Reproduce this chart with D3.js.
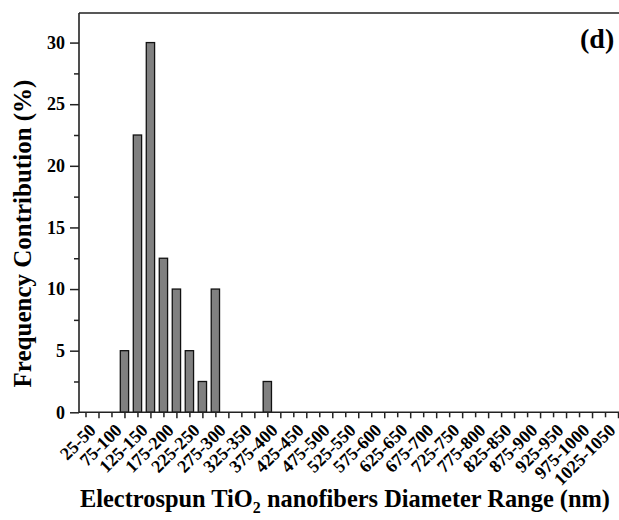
<!DOCTYPE html>
<html>
<head>
<meta charset="utf-8">
<script src="https://cdn.jsdelivr.net/npm/d3@7"></script>
<style>
  html, body { margin: 0; padding: 0; background: #fff; }
  svg { display: block; }
  text { font-family: "Liberation Serif", "Times New Roman", serif; font-weight: bold; fill: #000; }
</style>
</head>
<body>
<svg id="chart" width="619" height="520"></svg>
<script>
// ---- data (25 nm bins, frequency %) ----
const binLabels = ["75-100", "100-125", "125-150", "150-175", "175-200", "200-225", "225-250", "250-275", "350-375"];
const freq = [5, 22.5, 30, 12.5, 10, 5, 2.5, 10, 2.5];
const xTickLabels = ["25-50", "75-100", "125-150", "175-200", "225-250", "275-300", "325-350", "375-400",
  "425-450", "475-500", "525-550", "575-600", "625-650", "675-700", "725-750", "775-800", "825-850",
  "875-900", "925-950", "975-1000", "1025-1050"];
const yTicks = [0, 5, 10, 15, 20, 25, 30];
const yMinorTicks = [2.5, 7.5, 12.5, 17.5, 22.5, 27.5];
const xMinorTickLabels = ["0-25", "50-75", "100-125", "150-175", "200-225", "250-275", "300-325", "350-375",
  "400-425", "450-475", "500-525", "550-575", "600-625", "650-675", "700-725", "750-775", "800-825",
  "850-875", "900-925", "950-975", "1000-1025"];

const mid = s => { const p = s.split("-").map(Number); return (p[0] + p[1]) / 2; };

const svg = d3.select("#chart");
const mLeft = 79, mTop = 13, mBottom = 412.3, mRight = 631;

const x = d3.scaleLinear().domain([0, 1062.5]).range([mLeft, mRight]);
const y = d3.scaleLinear().domain([0, 32.4]).range([mBottom, mTop]);

// frame (top & right)
svg.append("path")
  .attr("d", `M${mLeft},${mTop}H${mRight}V${mBottom}`)
  .attr("fill", "none").attr("stroke", "#222").attr("stroke-width", 1.6);

// bars
const barW = x(16) - x(0);
svg.append("g").selectAll("rect").data(binLabels).join("rect")
  .attr("x", (d) => x(mid(d)) - barW / 2)
  .attr("y", (d, i) => y(freq[i]))
  .attr("width", barW)
  .attr("height", (d, i) => y(0) - y(freq[i]))
  .attr("fill", "#808080")
  .attr("stroke", "#111")
  .attr("stroke-width", 1.3);

// x axis minor
svg.append("g").attr("transform", `translate(0,${mBottom})`)
  .call(d3.axisBottom(x).tickValues(xMinorTickLabels.map(mid)).tickSize(5).tickFormat(""))
  .call(g => g.select(".domain").remove())
  .call(g => g.selectAll("line").attr("stroke", "#222").attr("stroke-width", 1.5));

// x axis major
const xAxis = svg.append("g").attr("transform", `translate(0,${mBottom})`)
  .call(d3.axisBottom(x).tickValues(xTickLabels.map(mid)).tickSize(6)
    .tickFormat((d, i) => xTickLabels[i]).tickSizeOuter(0));
xAxis.select(".domain").attr("stroke", "#222").attr("stroke-width", 1.6)
  .attr("d", `M${mLeft},0H${mRight}`);
xAxis.selectAll("line").attr("stroke", "#222").attr("stroke-width", 1.5);
xAxis.selectAll("text")
  .attr("font-size", 18).attr("font-family", "Liberation Serif").attr("font-weight", "bold")
  .attr("text-anchor", "end")
  .attr("y", 0).attr("dy", 0)
  .attr("transform", "translate(-2,19) rotate(-45)");

// y axis minor
svg.append("g").attr("transform", `translate(${mLeft},0)`)
  .call(d3.axisLeft(y).tickValues(yMinorTicks).tickSize(5).tickFormat(""))
  .call(g => g.select(".domain").remove())
  .call(g => g.selectAll("line").attr("stroke", "#222").attr("stroke-width", 1.5));

// y axis major
const yAxis = svg.append("g").attr("transform", `translate(${mLeft},0)`)
  .call(d3.axisLeft(y).tickValues(yTicks).tickSize(9).tickPadding(5).tickSizeOuter(0));
yAxis.select(".domain").attr("stroke", "#222").attr("stroke-width", 1.6)
  .attr("d", `M0,${mTop}V${mBottom}`);
yAxis.selectAll("line").attr("stroke", "#222").attr("stroke-width", 1.5);
yAxis.selectAll("text").attr("font-size", 18).attr("font-family", "Liberation Serif").attr("font-weight", "bold");

// axis titles
svg.append("text")
  .attr("transform", `translate(31,233.5) rotate(-90)`)
  .attr("text-anchor", "middle")
  .attr("font-size", 25)
  .text("Frequency Contribution (%)");

const xt = svg.append("text")
  .attr("x", 80).attr("y", 507)
  .attr("font-size", 24.4);
xt.append("tspan").text("Electrospun TiO");
xt.append("tspan").attr("font-size", 16).attr("dy", 6).text("2");
xt.append("tspan").attr("dy", -6).text(" nanofibers Diameter Range (nm)");

// panel label
svg.append("text").attr("x", 580).attr("y", 48).attr("font-size", 28).text("(d)");
</script>
</body>
</html>
